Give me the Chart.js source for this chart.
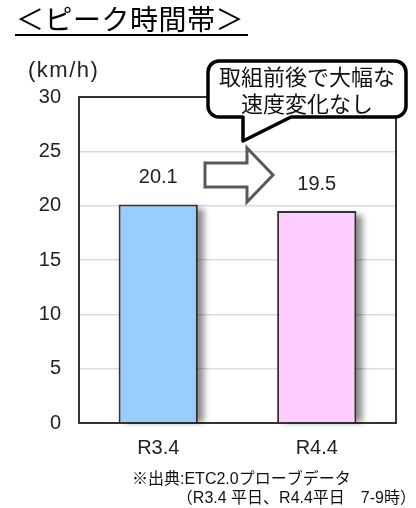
<!DOCTYPE html>
<html>
<head>
<meta charset="utf-8">
<script src="https://cdn.jsdelivr.net/npm/chart.js@4"></script>
<style>
  html, body { margin: 0; padding: 0; background: #fff; }
  #wrap { width: 416px; height: 508px; }
</style>
</head>
<body>
<div id="wrap"><canvas id="myChart" width="416" height="508"></canvas></div>
<script>
// データ
const categories = ["R3.4", "R4.4"];
const speeds = [20.1, 19.5];           // ピーク時間帯の平均速度 (km/h)
const barColors = ["#99CCFF", "#FFCCFF"];
const yMin = 0, yMax = 30, yStep = 5;

const titleText = "＜ピーク時間帯＞";
const unitText = "(km/h)";
const calloutLines = ["取組前後で大幅な", "速度変化なし"];
const sourceLines = ["※出典:ETC2.0プローブデータ", "（R3.4 平日、R4.4平日　7-9時）"];

const JP = '"Noto Sans CJK JP", sans-serif';
const LAT = '"Liberation Sans", Arial, "Noto Sans CJK JP", sans-serif';

// 棒の影
const shadowPlugin = {
  id: "barShadow",
  beforeDatasetsDraw(chart) {
    const ctx = chart.ctx;
    chart.getDatasetMeta(0).data.forEach(bar => {
      ctx.save();
      ctx.filter = "blur(3px)";
      ctx.fillStyle = "rgba(0,0,0,0.45)";
      ctx.fillRect(bar.x - bar.width / 2 + 6, bar.y + 4, bar.width, bar.base - bar.y - 4);
      ctx.restore();
    });
  }
};

// 枠・ラベル・吹き出しなど
const decoPlugin = {
  id: "deco",
  afterDraw(chart) {
    const ctx = chart.ctx;
    const a = chart.chartArea;

    // 上と右の枠線
    ctx.save();
    ctx.strokeStyle = "#333";
    ctx.lineWidth = 2;
    ctx.beginPath();
    ctx.moveTo(a.left, a.top);
    ctx.lineTo(a.right, a.top);
    ctx.lineTo(a.right, a.bottom);
    ctx.stroke();
    ctx.restore();

    // 値ラベル
    ctx.save();
    ctx.fillStyle = "#222";
    ctx.font = "20px " + LAT;
    ctx.textAlign = "center";
    ctx.textBaseline = "middle";
    chart.getDatasetMeta(0).data.forEach((bar, i) => {
      ctx.fillText(speeds[i].toFixed(1), bar.x, bar.y - 27);
    });
    ctx.restore();

    // 矢印
    ctx.save();
    ctx.strokeStyle = "#595959";
    ctx.fillStyle = "#fff";
    ctx.lineWidth = 3;
    ctx.lineJoin = "miter";
    ctx.beginPath();
    ctx.moveTo(205, 163);
    ctx.lineTo(247, 163);
    ctx.lineTo(247, 148);
    ctx.lineTo(273, 175);
    ctx.lineTo(247, 202);
    ctx.lineTo(247, 187);
    ctx.lineTo(205, 187);
    ctx.closePath();
    ctx.fill();
    ctx.stroke();
    ctx.restore();

    // 吹き出し
    const bx = 208, by = 61, bw = 198, bh = 56, r = 11;
    ctx.save();
    ctx.strokeStyle = "#000";
    ctx.fillStyle = "#fff";
    ctx.lineWidth = 3.5;
    ctx.lineJoin = "round";
    ctx.beginPath();
    ctx.moveTo(bx + r, by);
    ctx.lineTo(bx + bw - r, by);
    ctx.arcTo(bx + bw, by, bx + bw, by + r, r);
    ctx.lineTo(bx + bw, by + bh - r);
    ctx.arcTo(bx + bw, by + bh, bx + bw - r, by + bh, r);
    ctx.lineTo(291, by + bh);
    ctx.lineTo(243, 141);
    ctx.lineTo(243, by + bh);
    ctx.lineTo(bx + r, by + bh);
    ctx.arcTo(bx, by + bh, bx, by + bh - r, r);
    ctx.lineTo(bx, by + r);
    ctx.arcTo(bx, by, bx + r, by, r);
    ctx.closePath();
    ctx.fill();
    ctx.stroke();
    ctx.fillStyle = "#111";
    ctx.font = "22px " + JP;
    ctx.textAlign = "center";
    ctx.textBaseline = "middle";
    ctx.fillText(calloutLines[0], bx + bw / 2, 77);
    ctx.fillText(calloutLines[1], bx + bw / 2, 104);
    ctx.restore();

    // タイトル
    ctx.save();
    ctx.fillStyle = "#000";
    ctx.font = "28px " + JP;
    ctx.letterSpacing = "0.5px";
    ctx.textBaseline = "middle";
    ctx.fillText(titleText, 16, 19);
    ctx.fillRect(15, 34, 233, 2);
    ctx.restore();

    // 単位
    ctx.save();
    ctx.fillStyle = "#222";
    ctx.font = "22px " + LAT;
    ctx.letterSpacing = "1.5px";
    ctx.textBaseline = "middle";
    ctx.fillText(unitText, 28, 71);
    ctx.restore();

    // 出典
    ctx.save();
    ctx.fillStyle = "#111";
    ctx.font = "16px " + LAT;
    ctx.textBaseline = "middle";
    ctx.textAlign = "left";
    ctx.fillText(sourceLines[0], 132, 480);
    ctx.textAlign = "right";
    ctx.fillText(sourceLines[1], 416, 499);
    ctx.restore();
  }
};

new Chart("myChart", {
  type: "bar",
  data: {
    labels: categories,
    datasets: [{
      data: speeds,
      backgroundColor: barColors,
      borderColor: "#333",
      borderWidth: 2,
      categoryPercentage: 1,
      barPercentage: 0.5
    }]
  },
  options: {
    responsive: false,
    animation: false,
    events: [],
    layout: { padding: { top: 97, right: 20, left: 0, bottom: 0 } },
    plugins: {
      legend: { display: false },
      tooltip: { enabled: false },
      title: { display: false }
    },
    scales: {
      x: {
        grid: { display: false, drawTicks: false },
        border: { display: true, color: "#333", width: 2 },
        ticks: { color: "#222", font: { size: 20, family: LAT }, padding: 13 },
        afterFit(s) { s.height = 85; }
      },
      y: {
        min: yMin,
        max: yMax,
        grid: { color: "#dcdcdc", lineWidth: 1.5, drawTicks: false },
        border: { display: true, color: "#333", width: 2 },
        ticks: { stepSize: yStep, color: "#222", font: { size: 20, family: LAT }, padding: 18 },
        afterFit(s) { s.width = 79; }
      }
    }
  },
  plugins: [shadowPlugin, decoPlugin]
});
</script>
</body>
</html>
